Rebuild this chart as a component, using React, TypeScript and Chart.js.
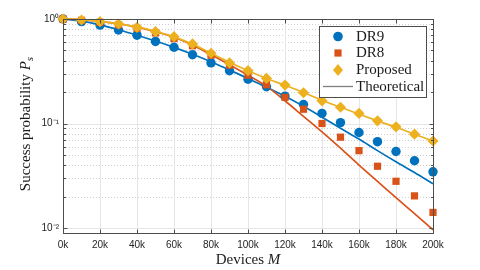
import React, { useEffect, useRef } from 'react';
import { Chart, registerables } from 'chart.js';

Chart.register(...registerables);

// ---- Data ----
const devices = [0, 10000, 20000, 30000, 40000, 50000, 60000, 70000, 80000, 90000, 100000, 110000, 120000, 130000, 140000, 150000, 160000, 170000, 180000, 190000, 200000];
const dr9 = [1.0, 0.945, 0.875, 0.785, 0.70, 0.61, 0.537, 0.455, 0.38, 0.32, 0.265, 0.225, 0.183, 0.152, 0.125, 0.102, 0.082, 0.067, 0.054, 0.044, 0.0345];
const dr8 = [1.0, 0.972, 0.93, 0.88, 0.815, 0.735, 0.65, 0.555, 0.45, 0.362, 0.29, 0.235, 0.178, 0.137, 0.10, 0.074, 0.055, 0.039, 0.028, 0.0203, 0.0141];
const proposed = [1.0, 0.978, 0.942, 0.896, 0.833, 0.756, 0.677, 0.577, 0.47, 0.38, 0.32, 0.27, 0.233, 0.197, 0.165, 0.143, 0.125, 0.106, 0.093, 0.079, 0.068];
const theoryDR9 = [1.0, 0.955, 0.88, 0.79, 0.70, 0.615, 0.535, 0.46, 0.39, 0.325, 0.27, 0.222, 0.182, 0.146, 0.115, 0.09, 0.071, 0.055, 0.043, 0.034, 0.0265];
const theoryDR8 = [1.0, 0.985, 0.95, 0.90, 0.835, 0.755, 0.67, 0.565, 0.455, 0.365, 0.29, 0.228, 0.165, 0.117, 0.083, 0.058, 0.040, 0.028, 0.0195, 0.0137, 0.0096];
const theoryProposed = [1.0, 0.985, 0.95, 0.90, 0.84, 0.76, 0.675, 0.575, 0.47, 0.385, 0.32, 0.27, 0.232, 0.198, 0.167, 0.143, 0.123, 0.106, 0.092, 0.079, 0.068];
const xTicks = [0, 20000, 40000, 60000, 80000, 100000, 120000, 140000, 160000, 180000, 200000];
const yTicks = [0.01, 0.1, 1];
const yTickLabels = ['10⁻²', '10⁻¹', '10⁰'];
const legendLabels = ['DR9', 'DR8', 'Proposed', 'Theoretical'];
const xTitle = 'Devices ';
const xTitleVar = 'M';
const yTitle = 'Success probability ';
const yTitleVar = 'P';
const yTitleSub = 's';

const BLUE = '#0072BD';
const ORANGE = '#D95319';
const YELLOW = '#EDB120';
const SERIF = '"Liberation Serif", "DejaVu Serif", serif';
const SANS = '"Liberation Sans", Arial, sans-serif';

const toXY = (ys: number[]) => ys.map((y, i) => ({ x: devices[i], y }));

const decorPlugin = {
  id: 'matlabDecor',
  beforeDatasetsDraw(chart: any) {
    const { ctx, chartArea: a, scales } = chart;
    const xs = scales.x;
    const ys = scales.y;
    ctx.save();
    ctx.beginPath();
    ctx.rect(a.left, a.top, a.right - a.left, a.bottom - a.top);
    ctx.clip();
    // minor horizontal dotted grid
    ctx.strokeStyle = '#cfcfcf';
    ctx.lineWidth = 1;
    ctx.setLineDash([1, 2]);
    for (let e = -3; e <= 0; e++) {
      for (let k = 2; k <= 9; k++) {
        const v = k * Math.pow(10, e);
        if (v < ys.min || v > ys.max) continue;
        const py = Math.round(ys.getPixelForValue(v)) + 0.5;
        ctx.beginPath();
        ctx.moveTo(a.left, py);
        ctx.lineTo(a.right, py);
        ctx.stroke();
      }
    }
    ctx.setLineDash([]);
    // major grid
    ctx.strokeStyle = '#e6e6e6';
    for (const v of yTicks) {
      const py = Math.round(ys.getPixelForValue(v)) + 0.5;
      ctx.beginPath();
      ctx.moveTo(a.left, py);
      ctx.lineTo(a.right, py);
      ctx.stroke();
    }
    for (const v of xTicks) {
      const px = Math.round(xs.getPixelForValue(v)) + 0.5;
      ctx.beginPath();
      ctx.moveTo(px, a.top);
      ctx.lineTo(px, a.bottom);
      ctx.stroke();
    }
    ctx.restore();
  },
  afterDatasetsDraw(chart: any) {
    const { ctx, chartArea: a, scales } = chart;
    const xs = scales.x;
    const ys = scales.y;
    ctx.save();
    // box
    ctx.strokeStyle = '#4d4d4d';
    ctx.lineWidth = 1;
    const L = Math.round(a.left) + 0.5;
    const R = Math.round(a.right) + 0.5;
    const T = Math.round(a.top) + 0.5;
    const B = Math.round(a.bottom) + 0.5;
    ctx.strokeRect(L, T, R - L, B - T);
    // inner ticks
    ctx.beginPath();
    for (const v of xTicks) {
      const px = Math.round(xs.getPixelForValue(v)) + 0.5;
      ctx.moveTo(px, B); ctx.lineTo(px, B - 4);
      ctx.moveTo(px, T); ctx.lineTo(px, T + 4);
    }
    for (let e = -3; e <= 0; e++) {
      for (let k = 1; k <= 9; k++) {
        const v = k * Math.pow(10, e);
        if (v < ys.min || v > ys.max) continue;
        const len = k === 1 ? 4 : 2.5;
        const py = Math.round(ys.getPixelForValue(v)) + 0.5;
        ctx.moveTo(L, py); ctx.lineTo(L + len, py);
        ctx.moveTo(R, py); ctx.lineTo(R - len, py);
      }
    }
    ctx.stroke();

    // legend
    const lx = 319.5, ly = 26.5, lw = 107, lh = 71;
    ctx.fillStyle = '#ffffff';
    ctx.fillRect(lx, ly, lw, lh);
    ctx.strokeStyle = '#4d4d4d';
    ctx.strokeRect(lx, ly, lw, lh);
    const rowY = [36.5, 53, 70, 86.5];
    const mx = 338;
    // circle
    ctx.fillStyle = BLUE;
    ctx.beginPath();
    ctx.arc(mx, rowY[0], 4.8, 0, Math.PI * 2);
    ctx.fill();
    // square
    ctx.fillStyle = ORANGE;
    ctx.fillRect(mx - 3.6, rowY[1] - 3.6, 7.2, 7.2);
    // diamond
    ctx.fillStyle = YELLOW;
    ctx.beginPath();
    ctx.moveTo(mx, rowY[2] - 6);
    ctx.lineTo(mx + 5, rowY[2]);
    ctx.lineTo(mx, rowY[2] + 6);
    ctx.lineTo(mx - 5, rowY[2]);
    ctx.closePath();
    ctx.fill();
    // line
    ctx.strokeStyle = '#7f7f7f';
    ctx.lineWidth = 1.3;
    ctx.beginPath();
    ctx.moveTo(323, rowY[3]);
    ctx.lineTo(353, rowY[3]);
    ctx.stroke();
    ctx.fillStyle = '#1a1a1a';
    ctx.font = `15px ${SERIF}`;
    ctx.textBaseline = 'middle';
    ctx.textAlign = 'left';
    legendLabels.forEach((t, i) => ctx.fillText(t, 356, rowY[i] + 0.5));
    ctx.restore();
  },
  afterDraw(chart: any) {
    const { ctx, chartArea: a } = chart;
    ctx.save();
    ctx.fillStyle = '#1a1a1a';
    ctx.textBaseline = 'alphabetic';
    ctx.textAlign = 'left';
    // x title
    const fN = `15px ${SERIF}`;
    const fI = `italic 15px ${SERIF}`;
    ctx.font = fN;
    const w1 = ctx.measureText(xTitle).width;
    ctx.font = fI;
    const w2 = ctx.measureText(xTitleVar).width;
    const cx = (a.left + a.right) / 2;
    let sx = cx - (w1 + w2) / 2;
    ctx.font = fN;
    ctx.fillText(xTitle, sx, 264);
    ctx.font = fI;
    ctx.fillText(xTitleVar, sx + w1, 264);
    // y title
    ctx.font = fN;
    const y1 = ctx.measureText(yTitle).width;
    ctx.font = fI;
    const y2 = ctx.measureText(yTitleVar).width;
    ctx.font = `italic 11px ${SERIF}`;
    const y3 = ctx.measureText(yTitleSub).width;
    const total = y1 + y2 + y3;
    ctx.translate(30, 124);
    ctx.rotate(-Math.PI / 2);
    let s = -total / 2;
    ctx.font = fN;
    ctx.fillText(yTitle, s, 0);
    ctx.font = fI;
    ctx.fillText(yTitleVar, s + y1, 0);
    ctx.font = `italic 11px ${SERIF}`;
    ctx.fillText(yTitleSub, s + y1 + y2, 3);
    ctx.restore();
  },
};

export default function App() {
  const ref = useRef<HTMLCanvasElement | null>(null);
  useEffect(() => {
    if (!ref.current) return;
    const scatterBase = { showLine: false, pointBorderWidth: 0, clip: false as any };
    const lineBase = { pointRadius: 0, borderWidth: 1.7, cubicInterpolationMode: 'monotone' as const, clip: false as any, fill: false };
    const chart = new Chart(ref.current, {
      type: 'line',
      data: {
        datasets: [
          { ...scatterBase, label: 'Proposed', data: toXY(proposed), pointStyle: 'rectRot', pointRadius: 5.6, backgroundColor: YELLOW, borderColor: YELLOW, order: 1 },
          { ...scatterBase, label: 'DR8', data: toXY(dr8), pointStyle: 'rect', pointRadius: 5.1, backgroundColor: ORANGE, borderColor: ORANGE, order: 2 },
          { ...scatterBase, label: 'DR9', data: toXY(dr9), pointStyle: 'circle', pointRadius: 4.7, backgroundColor: BLUE, borderColor: BLUE, order: 3 },
          { ...lineBase, label: 'Theory Proposed', data: toXY(theoryProposed), borderColor: YELLOW, order: 4 },
          { ...lineBase, label: 'Theory DR8', data: toXY(theoryDR8), borderColor: ORANGE, order: 5 },
          { ...lineBase, label: 'Theory DR9', data: toXY(theoryDR9), borderColor: BLUE, order: 6 },
        ],
      },
      options: {
        responsive: false,
        animation: false,
        devicePixelRatio: 1,
        layout: { padding: { left: 0, right: 47, top: 19, bottom: 0 } },
        plugins: { legend: { display: false }, tooltip: { enabled: false } },
        scales: {
          x: {
            type: 'linear',
            min: 0,
            max: 200000,
            grid: { display: false, drawTicks: false },
            border: { display: false },
            afterBuildTicks: (scale: any) => { scale.ticks = xTicks.map((v) => ({ value: v })); },
            afterFit: (scale: any) => { scale.height = 37; },
            ticks: {
              autoSkip: false,
              maxRotation: 0,
              padding: 6,
              color: '#262626',
              font: { family: SANS, size: 10 },
              callback: (v: any) => `${Math.round(Number(v) / 1000)}k`,
            },
          },
          y: {
            type: 'logarithmic',
            min: 0.00896,
            max: 1,
            grid: { display: false, drawTicks: false },
            border: { display: false },
            afterBuildTicks: (scale: any) => { scale.ticks = yTicks.map((v) => ({ value: v, major: true })); },
            afterFit: (scale: any) => { scale.width = 63; },
            ticks: {
              autoSkip: false,
              padding: 4,
              color: '#262626',
              font: { family: SANS, size: 10 },
              callback: (v: any) => {
                const i = yTicks.findIndex((t) => Math.abs(t - Number(v)) / t < 1e-6);
                return i >= 0 ? yTickLabels[i] : '';
              },
            },
          },
        },
      },
      plugins: [decorPlugin],
    });
    return () => chart.destroy();
  }, []);
  return (
    <div style={{ position: 'absolute', left: 0, top: 0, width: 480, height: 270, background: '#fff' }}>
      <canvas ref={ref} width={480} height={270} style={{ width: 480, height: 270, display: 'block' }} />
    </div>
  );
}
